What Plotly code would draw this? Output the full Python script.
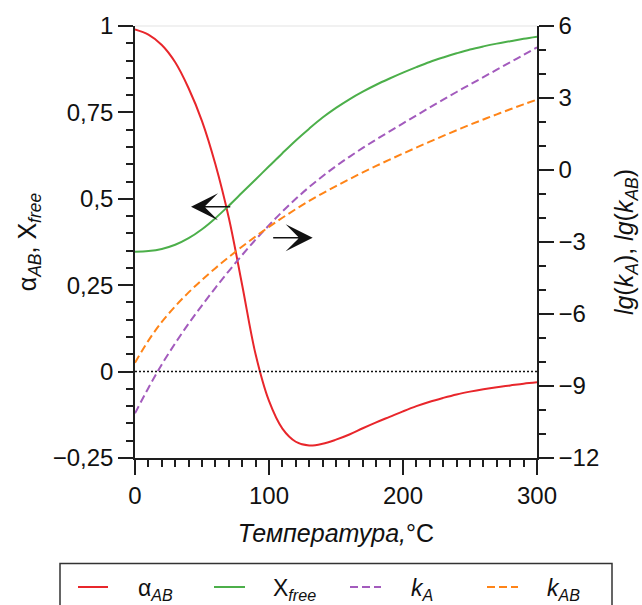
import plotly.graph_objects as go

# Temperature grid, °C
temperature = [0, 10, 20, 30, 40, 50, 60, 70, 80, 90, 100, 110, 120, 130, 140, 150,
               160, 170, 180, 190, 200, 210, 220, 230, 240, 250, 260, 270, 280, 290, 300]

# Left axis series
alpha_ab = [0.99, 0.975, 0.945, 0.895, 0.82, 0.725, 0.60, 0.445, 0.25, 0.05, -0.085,
            -0.165, -0.203, -0.214, -0.209, -0.197, -0.182, -0.164, -0.147, -0.131,
            -0.115, -0.100, -0.087, -0.076, -0.066, -0.058, -0.051, -0.045, -0.040,
            -0.035, -0.031]
x_free = [0.347, 0.349, 0.355, 0.367, 0.386, 0.412, 0.444, 0.480, 0.518, 0.556, 0.594,
          0.632, 0.669, 0.703, 0.735, 0.763, 0.788, 0.810, 0.830, 0.848, 0.865, 0.881,
          0.896, 0.909, 0.921, 0.932, 0.941, 0.949, 0.956, 0.963, 0.969]

# Right axis series (decimal logarithms)
lg_k_a = [-10.14, -9.08, -8.10, -7.22, -6.40, -5.64, -4.91, -4.21, -3.54, -2.90, -2.30,
          -1.73, -1.20, -0.71, -0.26, 0.16, 0.55, 0.92, 1.27, 1.61, 1.945, 2.275,
          2.605, 2.93, 3.25, 3.56, 3.87, 4.18, 4.49, 4.80, 5.11]
lg_k_ab = [-8.03, -7.11, -6.33, -5.68, -5.10, -4.58, -4.09, -3.63, -3.19, -2.77, -2.37,
           -1.99, -1.63, -1.29, -0.97, -0.67, -0.38, -0.10, 0.17, 0.43, 0.685, 0.935,
           1.18, 1.42, 1.655, 1.885, 2.105, 2.32, 2.53, 2.735, 2.935]

# Tick labels
left_tickvals = [-0.25, 0, 0.25, 0.5, 0.75, 1]
left_ticktext = ["\u22120,25", "0", "0,25", "0,5", "0,75", "1"]
right_tickvals = [-12, -9, -6, -3, 0, 3, 6]
right_ticktext = ["\u221212", "\u22129", "\u22126", "\u22123", "0", "3", "6"]
x_tickvals = [0, 100, 200, 300]
x_ticktext = ["0", "100", "200", "300"]

series_names = ["\u03b1<sub><i>AB</i></sub>", "X<sub><i>free</i></sub>",
                "<i>k</i><sub><i>A</i></sub>", "<i>k</i><sub><i>AB</i></sub>"]
series_colors = ["#e8262b", "#4caf4a", "#a35bbd", "#ff8417"]
series_dash = ["solid", "solid", "8px,4px", "8px,4px"]

FONT = "Liberation Sans, Arial, sans-serif"
AXIS_COLOR = "#1e1e1e"
TEXT_COLOR = "#111111"

W, H = 642, 605
ML, MR, MT, MB = 135, 105, 26, 147
PW, PH = W - ML - MR, H - MT - MB


def px_x(px):
    return (px - ML) / PW


def px_y(py):
    return (H - MB - py) / PH


fig = go.Figure()

series = [(alpha_ab, "y"), (x_free, "y"), (lg_k_a, "y2"), (lg_k_ab, "y2")]
for (values, axis), color, dash in zip(series, series_colors, series_dash):
    fig.add_trace(go.Scatter(x=temperature, y=values, mode="lines", yaxis=axis,
                             line=dict(color=color, width=2, shape="spline",
                                       smoothing=1.0, dash=dash),
                             showlegend=False))

shapes = [
    # light frame line along the top of the plot area
    dict(type="line", xref="paper", yref="paper", x0=0, x1=1, y0=1, y1=1,
         line=dict(color="#e3e3e3", width=1)),
    # zero reference line
    dict(type="line", xref="x", yref="y", x0=0, x1=300, y0=0, y1=0,
         line=dict(color="#111111", width=1.5, dash="2px,2px")),
    # legend frame (runs past the bottom edge of the page)
    dict(type="rect", xref="paper", yref="paper",
         x0=px_x(60), x1=px_x(612), y0=px_y(660), y1=px_y(563.5),
         line=dict(color="#333333", width=1.5), fillcolor="rgba(0,0,0,0)"),
]

annotations = []
sample_x = [(78, 108), (214, 245), (350, 381), (487, 518)]
label_x = [136, 271, 409, 545]
for name, color, dash, (sx0, sx1), lx in zip(series_names, series_colors, series_dash,
                                             sample_x, label_x):
    shapes.append(dict(type="line", xref="paper", yref="paper",
                       x0=px_x(sx0), x1=px_x(sx1), y0=px_y(587), y1=px_y(587),
                       line=dict(color=color, width=2, dash=dash)))
    annotations.append(dict(xref="paper", yref="paper", x=px_x(lx), y=px_y(589),
                            xanchor="left", yanchor="middle", showarrow=False,
                            text=name, font=dict(family=FONT, size=23, color=TEXT_COLOR)))

# arrows pointing to the axis each group of curves belongs to
annotations.append(dict(xref="x", yref="y", axref="x", ayref="y",
                        x=41.8, y=0.477, ax=72.2, ay=0.477, text="",
                        showarrow=True, arrowhead=3, arrowsize=3, arrowwidth=1.5,
                        arrowcolor="#111111", standoff=0, startstandoff=0))
annotations.append(dict(xref="x", yref="y", axref="x", ayref="y",
                        x=132.6, y=0.387, ax=102, ay=0.387, text="",
                        showarrow=True, arrowhead=3, arrowsize=3, arrowwidth=1.5,
                        arrowcolor="#111111", standoff=0, startstandoff=0))

axis_common = dict(showline=True, linecolor=AXIS_COLOR, linewidth=1.5,
                   ticks="outside", ticklen=15, tickwidth=1.5, tickcolor=AXIS_COLOR,
                   showgrid=False, zeroline=False, automargin=False,
                   tickfont=dict(family=FONT, size=24, color=TEXT_COLOR))

fig.update_layout(
    width=W, height=H,
    margin=dict(l=ML, r=MR, t=MT, b=MB, pad=0, autoexpand=False),
    paper_bgcolor="white", plot_bgcolor="white",
    showlegend=False,
    xaxis=dict(range=[0, 300], tickmode="array", tickvals=x_tickvals,
               ticktext=x_ticktext,
               minor=dict(tickmode="linear", tick0=0, dtick=10, ticks="outside",
                          ticklen=7, tickwidth=1.5, tickcolor=AXIS_COLOR),
               title=dict(text="<i>Температура,</i>°C", standoff=17,
                          font=dict(family=FONT, size=25, color=TEXT_COLOR)),
               **axis_common),
    yaxis=dict(range=[-0.25, 1], tickmode="array", tickvals=left_tickvals,
               ticktext=left_ticktext,
               minor=dict(tickmode="linear", tick0=0, dtick=0.05, ticks="outside",
                          ticklen=7, tickwidth=1.5, tickcolor=AXIS_COLOR),
               title=dict(text="\u03b1<sub><i>AB</i></sub>, X<sub><i>free</i></sub>",
                          standoff=9, font=dict(family=FONT, size=25, color=TEXT_COLOR)),
               **axis_common),
    yaxis2=dict(range=[-12, 6], overlaying="y", side="right", anchor="x",
                tickmode="array", tickvals=right_tickvals, ticktext=right_ticktext,
                minor=dict(tickmode="linear", tick0=0, dtick=1, ticks="outside",
                           ticklen=7, tickwidth=1.5, tickcolor=AXIS_COLOR),
                title=dict(text="<i>lg</i>(<i>k</i><sub><i>A</i></sub>), "
                                "<i>lg</i>(<i>k</i><sub><i>AB</i></sub>)",
                           standoff=18, font=dict(family=FONT, size=25, color=TEXT_COLOR)),
                **axis_common),
    shapes=shapes,
    annotations=annotations,
)

fig.write_html("out.html")
